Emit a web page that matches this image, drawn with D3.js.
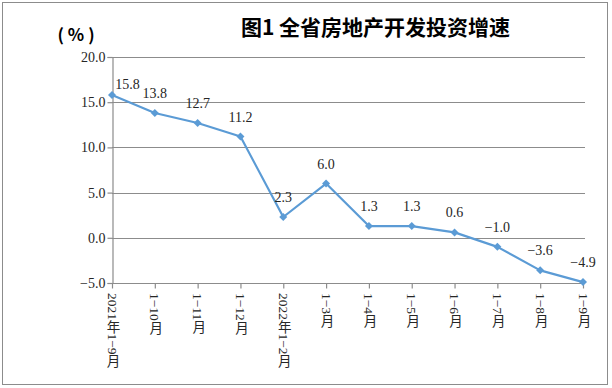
<!DOCTYPE html>
<html>
<head>
<meta charset="utf-8">
<script src="https://cdn.jsdelivr.net/npm/d3@7"></script>
<style>
  body { margin: 0; background: #fff; }
  svg { display: block; }
</style>
</head>
<body>
<div id="chart"></div>
<script>
// data
const categories = ["2021年1−9月", "1−10月", "1−11月", "1−12月", "2022年1−2月", "1−3月",
                    "1−4月", "1−5月", "1−6月", "1−7月", "1−8月", "1−9月"];
const values = [15.8, 13.8, 12.7, 11.2, 2.3, 6.0, 1.3, 1.3, 0.6, -1.0, -3.6, -4.9];
const yTicks = [-5, 0, 5, 10, 15, 20];

const width = 612, height = 388;
const margin = {top: 57, right: 29, bottom: 105, left: 112};
const numFont = "'Liberation Serif', 'Noto Sans CJK SC', serif";
const textColor = "#262626";
const gridColor = "#8c8c8c";
const lineColor = "#5b9bd5";

const fmt = v => (v < 0 ? "\u2212" : "") + Math.abs(v).toFixed(1);

const svg = d3.select("#chart")
  .append("svg")
    .attr("width", width)
    .attr("height", height);

// outer frame
svg.append("rect")
    .attr("x", 2.5).attr("y", 2.5)
    .attr("width", 605).attr("height", 382)
    .attr("fill", "none")
    .attr("stroke", gridColor)
    .attr("stroke-width", 1);

const x = d3.scalePoint()
    .domain(categories)
    .range([margin.left, width - margin.right]);

const y = d3.scaleLinear()
    .domain([-5, 20])
    .range([height - margin.bottom, margin.top]);

// gridlines
svg.append("g")
  .selectAll("line")
  .data(yTicks)
  .join("line")
    .attr("x1", margin.left)
    .attr("x2", width - margin.right + 2)
    .attr("y1", d => Math.round(y(d)) + 0.5)
    .attr("y2", d => Math.round(y(d)) + 0.5)
    .attr("stroke", gridColor)
    .attr("stroke-width", 1.2);

// y axis
const yAxis = svg.append("g")
    .attr("transform", `translate(${margin.left + 0.5},0)`)
    .call(d3.axisLeft(y).tickValues(yTicks).tickSize(5).tickPadding(2).tickFormat(fmt));
yAxis.select(".domain").attr("stroke", gridColor).attr("stroke-width", 1.2);
yAxis.selectAll(".tick line").attr("stroke", gridColor).attr("stroke-width", 1.2);
yAxis.selectAll(".tick text")
    .attr("font-family", numFont)
    .attr("font-size", 14)
    .attr("fill", textColor);

// x axis
const xAxis = svg.append("g")
    .attr("transform", `translate(0,${Math.round(y(-5)) + 0.5})`)
    .call(d3.axisBottom(x).tickSize(5).tickSizeOuter(0).tickFormat(""));
xAxis.select(".domain").remove();
xAxis.selectAll(".tick line").attr("stroke", gridColor).attr("stroke-width", 1.2);

svg.append("g")
  .selectAll("text")
  .data(categories)
  .join("text")
    .attr("x", d => x(d))
    .attr("y", height - margin.bottom + 10)
    .attr("font-family", numFont)
    .attr("font-size", 13.5)
    .attr("fill", textColor)
    .style("writing-mode", "vertical-rl")
    .text(d => d);

// line
const line = d3.line()
    .x((d, i) => x(categories[i]))
    .y(d => y(d));

svg.append("path")
    .datum(values)
    .attr("fill", "none")
    .attr("stroke", lineColor)
    .attr("stroke-width", 2.2)
    .attr("stroke-linejoin", "round")
    .attr("d", line);

svg.append("g")
  .selectAll("path")
  .data(values)
  .join("path")
    .attr("transform", (d, i) => `translate(${x(categories[i])},${y(d)})`)
    .attr("d", "M0,-4L4,0L0,4L-4,0Z")
    .attr("fill", lineColor);

// data labels
svg.append("g")
  .selectAll("text")
  .data(values)
  .join("text")
    .attr("x", (d, i) => x(categories[i]) + (i === 0 ? 15.5 : 0))
    .attr("y", (d, i) => y(d) - (i === 0 ? 6 : 15))
    .attr("text-anchor", "middle")
    .attr("font-family", numFont)
    .attr("font-size", 14)
    .attr("fill", textColor)
    .text(fmt);

// title and unit
svg.append("text")
    .attr("x", 375.5)
    .attr("y", 35)
    .attr("text-anchor", "middle")
    .attr("font-family", "'Noto Sans CJK SC', sans-serif")
    .attr("font-weight", "bold")
    .attr("font-size", 21)
    .attr("fill", "#000")
    .text("图1 全省房地产开发投资增速");

svg.append("text")
    .attr("x", 78)
    .attr("y", 41)
    .attr("text-anchor", "middle")
    .attr("font-family", "'Noto Sans CJK SC', sans-serif")
    .attr("font-weight", "bold")
    .attr("font-size", 17)
    .attr("letter-spacing", 4)
    .attr("fill", "#000")
    .text("(%)");
</script>
</body>
</html>
